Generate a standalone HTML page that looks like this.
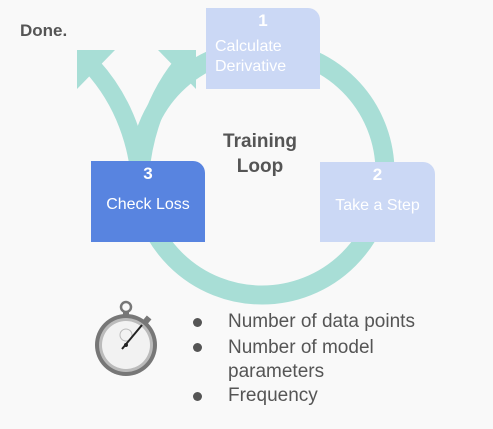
<!DOCTYPE html>
<html><head><style>
body{margin:0;width:493px;height:429px;background:#f9f9f9;position:relative;overflow:hidden;font-family:"Liberation Sans",sans-serif}
.b{position:absolute;color:#fff;text-align:center;border-top-right-radius:12px;font-size:16px}
.n{font-weight:bold;font-size:17px;margin-top:3px}
.t{position:absolute;color:#555;font-size:19px;left:228px}
.d{position:absolute;left:193px;width:9px;height:9px;border-radius:50%;background:#555}
</style></head><body>
<svg width="493" height="429" style="position:absolute;left:0;top:0">
<circle cx="262" cy="172" r="123" fill="none" stroke="#a8ded6" stroke-width="19"/>
<path d="M140 175 Q132 110 92 66" fill="none" stroke="#a8ded6" stroke-width="18"/>
<path d="M140 175 Q146 110 181 66" fill="none" stroke="#a8ded6" stroke-width="18"/>
<polygon points="77,50 115,50 77,89" fill="#a8ded6"/>
<polygon points="196,50 158,50 196,89" fill="#a8ded6"/>
<g transform="translate(126,345)">
<circle cx="0" cy="-38" r="5" fill="none" stroke="#777" stroke-width="2.5"/>
<rect x="-3" y="-34" width="6" height="5" fill="#777"/>
<rect x="-3" y="-36" width="6" height="7" fill="#777" transform="rotate(40)"/>
<circle r="31" fill="#777"/><circle r="27" fill="#bbb"/><circle r="24" fill="#f2f2f2"/>
<circle cx="0" cy="-10" r="6" fill="none" stroke="#bbb" stroke-width="1"/>
<line x1="-4" y1="4" x2="16" y2="-20" stroke="#222" stroke-width="2"/>
<circle r="2" fill="#222"/>
</g>
</svg>
<div style="position:absolute;left:20px;top:21px;font-size:17px;font-weight:bold;color:#555">Done.</div>
<div class="b" style="left:206px;top:8px;width:114px;height:81px;background:#cbd8f5"><div class="n">1</div><div style="text-align:left;padding-left:9px;margin-top:6px;line-height:20px">Calculate<br>Derivative</div></div>
<div class="b" style="left:320px;top:162px;width:115px;height:80px;background:#cbd8f5"><div class="n">2</div><div style="margin-top:12px">Take a Step</div></div>
<div class="b" style="left:91px;top:161px;width:114px;height:81px;background:#5884e0"><div class="n">3</div><div style="margin-top:12px">Check Loss</div></div>
<div style="position:absolute;left:205px;top:129px;width:110px;text-align:center;font-size:19px;font-weight:bold;color:#555;line-height:25px">Training<br>Loop</div>
<div class="d" style="top:318px"></div><div class="t" style="top:311px">Number of data points</div>
<div class="d" style="top:343px"></div><div class="t" style="top:336px;line-height:24px">Number of model<br>parameters</div>
<div class="d" style="top:392px"></div><div class="t" style="top:385px">Frequency</div>
</body></html>
